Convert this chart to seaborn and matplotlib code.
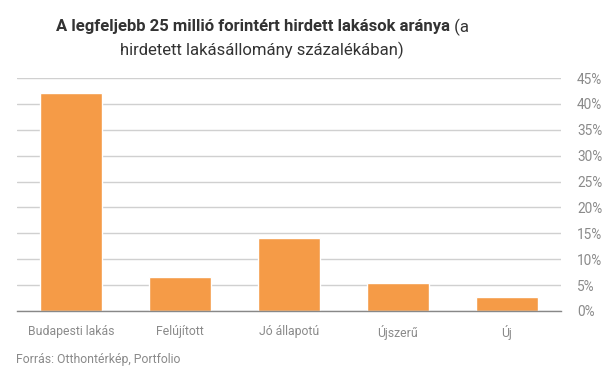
import matplotlib
matplotlib.use("Agg")
import matplotlib.pyplot as plt
import seaborn as sns
import pandas as pd
from matplotlib.ticker import FuncFormatter

categories = ["Budapesti lakás", "Felújított", "Jó állapotú", "Újszerű", "Új"]
values = [42.1, 6.6, 14.1, 5.4, 2.7]
yticks = [0, 5, 10, 15, 20, 25, 30, 35, 40, 45]

title_bold = "A legfeljebb 25 millió forintért hirdett lakások aránya"
title_rest1 = " (a"
title_line2 = "hirdetett lakásállomány százalékában)"
source = "Forrás: Otthontérkép, Portfolio"

sns.set_theme(style="white")
plt.rcParams["font.family"] = ["Roboto", "DejaVu Sans"]

W, H = 607, 380
fig = plt.figure(figsize=(W / 100, H / 100), dpi=100)
ax = fig.add_axes([17 / W, (H - 311) / H, 544 / W, 233 / H])

df = pd.DataFrame({"cat": categories, "val": values})
sns.barplot(data=df, x="cat", y="val", color="#F59B47", saturation=1, width=0.57, ax=ax)

ax.set_xlim(-0.5, 4.5)
ax.set_ylim(0, 45)
ax.set_yticks(yticks)
ax.yaxis.tick_right()
ax.yaxis.set_major_formatter(FuncFormatter(lambda v, p: f"{int(v)}%"))
ax.tick_params(axis="y", length=0, pad=11.5, labelsize=9.8, labelcolor="#8a8a8a")
ax.tick_params(axis="x", length=0, pad=10, labelsize=8.8, labelcolor="#8a8a8a")
ax.set_xlabel("")
ax.set_ylabel("")
ax.grid(axis="y", color="#d0d0d0", linewidth=1)
ax.set_axisbelow(True)
for s in ["top", "left", "right"]:
    ax.spines[s].set_visible(False)
ax.spines["bottom"].set_color("#888888")
ax.spines["bottom"].set_linewidth(1)

# Title with mixed weights
cx = 262 / W
y1 = 1 - 27 / H
y2 = 1 - 50 / H
fig.canvas.draw()
r = fig.canvas.get_renderer()
tb = fig.text(0, y1, title_bold, fontsize=12, fontweight="bold", color="#333333", va="center", ha="left")
tr = fig.text(0, y1, title_rest1, fontsize=12, color="#333333", va="center", ha="left")
wb = tb.get_window_extent(r).width
wr = tr.get_window_extent(r).width
start = cx * W - (wb + wr) / 2
tb.set_x(start / W)
tr.set_x((start + wb) / W)
fig.text(cx, y2, title_line2, fontsize=12, color="#333333", va="center", ha="center")

fig.text(16 / W, 1 - 359 / H, source, fontsize=8.8, color="#8a8a8a", va="center", ha="left")

fig.savefig("out.png", dpi=100)
